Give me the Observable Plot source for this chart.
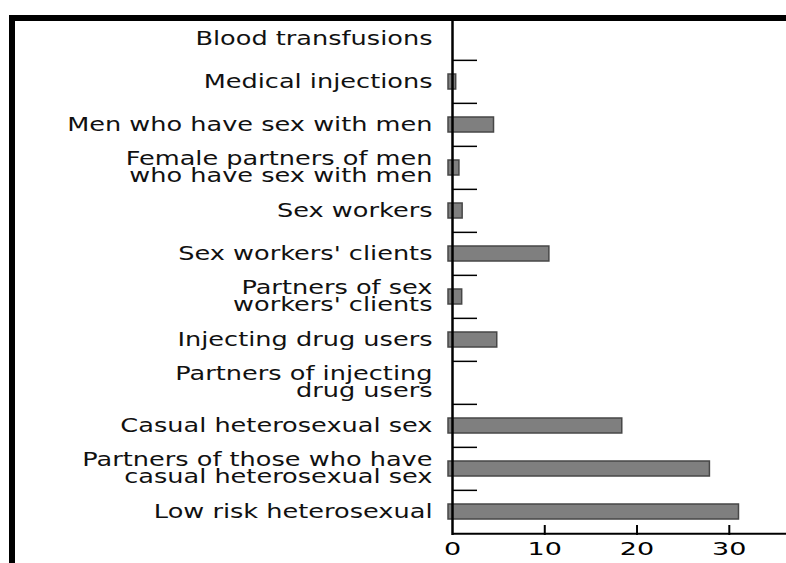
<!DOCTYPE html>
<html>
<head>
<meta charset="utf-8">
<script src="https://cdn.jsdelivr.net/npm/d3@7"></script>
<script src="https://cdn.jsdelivr.net/npm/@observablehq/plot@0.6"></script>
<style>
  html, body { margin: 0; padding: 0; background: #fff; }
  #wrap { position: relative; width: 786px; height: 563px; overflow: hidden; }
  #frame { position: absolute; left: 9px; top: 15px; right: 0; bottom: -10px;
           border-top: 6px solid #000; border-left: 6px solid #000; pointer-events: none; }
  #chart svg { display: block; }
</style>
</head>
<body>
<div id="wrap"><div id="chart"></div><div id="frame"></div></div>
<script>
const categories = [
  "Blood transfusions",
  "Medical injections",
  "Men who have sex with men",
  "Female partners of men\nwho have sex with men",
  "Sex workers",
  "Sex workers' clients",
  "Partners of sex\nworkers' clients",
  "Injecting drug users",
  "Partners of injecting\ndrug users",
  "Casual heterosexual sex",
  "Partners of those who have\ncasual heterosexual sex",
  "Low risk heterosexual"
];
const values = [0, 0.4, 4.5, 0.75, 1.1, 10.5, 1.05, 4.85, 0, 18.4, 27.9, 31.05];
const xTicks = [0, 10, 20, 30];

const data = categories.map((c, i) => ({category: c, value: values[i]}));

const W = 786, H = 563, mTop = 15.5, mBottom = 28, mLeft = 452;
const step = (H - mBottom - mTop) / categories.length;
const font = "DejaVu Sans";

const chart = Plot.plot({
  width: W,
  height: H,
  marginTop: mTop,
  marginBottom: mBottom,
  marginLeft: mLeft,
  marginRight: 0,
  style: {fontFamily: font, fontSize: "18px", color: "#000", background: "transparent"},
  x: {domain: [0, 36.2], axis: null},
  y: {domain: categories, paddingInner: 0.65, paddingOuter: 0.325, axis: null},
  marks: [
    Plot.barX(data, {filter: d => d.value > 0, x: "value", y: "category",
      fill: "#7f7f7f", stroke: "#474747", strokeWidth: 1.5, insetLeft: -4}),
    Plot.ruleX([0], {stroke: "#000", strokeWidth: 2.5}),
    Plot.ruleY([categories[categories.length - 1]], {stroke: "#000", strokeWidth: 2, dy: step / 2}),
    Plot.ruleY(categories.slice(1), {stroke: "#000", strokeWidth: 1.5, dy: -step / 2, insetRight: W - mLeft - 25}),
    Plot.ruleX(xTicks.slice(1), {stroke: "#000", strokeWidth: 2, insetTop: H - mTop - mBottom - 10}),
    Plot.text(data, {x: () => 0, y: "category", text: "category", textAnchor: "end", dx: -20,
      lineHeight: 0.87, fontSize: 20, fill: "#111"}),
    Plot.axisX({ticks: xTicks, tickSize: 0, tickPadding: 7, fontSize: 18, label: null,
      tickFormat: d => String(d)})
  ]
});

// Horizontal stretch of the lettering (the reference type is very wide)
function stretch(selector, s) {
  chart.querySelectorAll(selector).forEach(el => {
    const t = el.getAttribute("transform") || "";
    const x = +el.getAttribute("x") || 0;
    el.setAttribute("transform", `${t} translate(${x},0) scale(${s},1) translate(${-x},0)`);
  });
}
stretch('g[aria-label="text"] text', 1.28);
stretch('g[aria-label="x-axis tick label"] text', 1.5);

document.getElementById("chart").appendChild(chart);
</script>
</body>
</html>
